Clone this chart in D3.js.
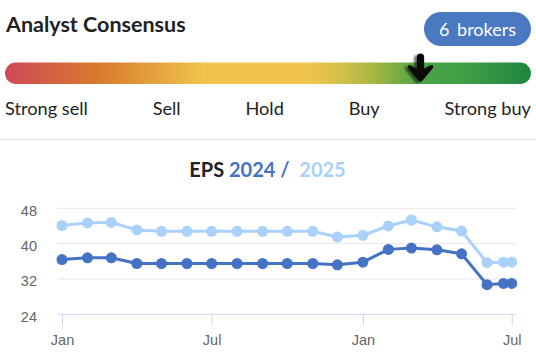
<!DOCTYPE html>
<html>
<head>
<meta charset="utf-8">
<script src="https://cdn.jsdelivr.net/npm/d3@7"></script>
<style>
  html, body { margin: 0; padding: 0; background: #fff; }
  svg { display: block; }
</style>
</head>
<body>
<div id="chart"></div>
<script>
// ---------- data ----------
const consensusLabels = ["Strong sell", "Sell", "Hold", "Buy", "Strong buy"];
const consensusScore = 4.16;          // 1 = Strong sell ... 5 = Strong buy
const brokerCount = 6;

const dates = ["2024-01-01","2024-02-01","2024-03-01","2024-04-01","2024-05-01","2024-06-01",
  "2024-07-01","2024-08-01","2024-09-01","2024-10-01","2024-11-01","2024-12-01",
  "2025-01-01","2025-02-01","2025-03-01","2025-04-01","2025-05-01","2025-06-01",
  "2025-06-21","2025-07-01"];
const eps2024 = [36.4, 36.8, 36.8, 35.5, 35.5, 35.5, 35.5, 35.5, 35.5, 35.5, 35.5, 35.2,
  35.8, 38.7, 39.0, 38.6, 37.7, 30.7, 31.0, 31.0];
const eps2025 = [44.1, 44.7, 44.8, 43.1, 42.8, 42.8, 42.8, 42.8, 42.8, 42.8, 42.8, 41.5,
  41.9, 44.0, 45.35, 43.8, 42.85, 35.7, 35.8, 35.8];
const yTicks = [24, 32, 40, 48];
const xTicks = ["2024-01-01", "2024-07-01", "2025-01-01", "2025-07-01"];

const W = 536, H = 361;
const parse = d3.timeParse("%Y-%m-%d");
const svg = d3.select("#chart").append("svg").attr("width", W).attr("height", H);
const defs = svg.append("defs");

// ---------- header ----------
svg.append("text").attr("x", 6).attr("y", 32)
  .attr("font-family", "Lato").attr("font-weight", 700).attr("font-size", 21.5)
  .attr("fill", "#222").text("Analyst Consensus");

svg.append("rect").attr("x", 424).attr("y", 12).attr("width", 107).attr("height", 34)
  .attr("rx", 17).attr("fill", "#4a78c1");
svg.append("text").attr("x", 477.5).attr("y", 35.5).attr("text-anchor", "middle")
  .attr("font-family", "Lato").attr("font-size", 18).attr("fill", "#fff")
  .attr("word-spacing", 3).text(brokerCount + " brokers");

// gradient bar
const grad = defs.append("linearGradient").attr("id", "cg").attr("x1", 0).attr("x2", 1).attr("y1", 0).attr("y2", 0);
[[0, "#cf4957"], [0.18, "#d97b2d"], [0.38, "#f0c44c"], [0.58, "#f0c44c"], [0.64, "#d3c049"],
 [0.705, "#a2b642"], [0.79, "#4ba445"], [0.86, "#43a047"], [1, "#1f8640"]]
  .forEach(([o, c]) => grad.append("stop").attr("offset", o).attr("stop-color", c));
const barX0 = 5, barX1 = 531;
svg.append("rect").attr("x", barX0).attr("y", 62.5).attr("width", barX1 - barX0).attr("height", 21.5)
  .attr("rx", 10.75).attr("fill", "url(#cg)");

// arrow marker
const sx = d3.scaleLinear().domain([1, 5]).range([barX0, barX1]);
const ax = sx(consensusScore);
const blur = defs.append("filter").attr("id", "blur").attr("x", -0.5).attr("y", -0.5).attr("width", 2).attr("height", 2);
blur.append("feGaussianBlur").attr("stdDeviation", 1.2);
function arrowPath(cx) {
  return `M${cx - 3.6},57 Q${cx - 3.6},53.5 ${cx},53.5 Q${cx + 3.6},53.5 ${cx + 3.6},57 L${cx + 3.6},69 ` +
    `L${cx + 10.5},65 Q${cx + 14},64.5 ${cx + 12},68.5 L${cx + 1.6},81 Q${cx},82.5 ${cx - 1.6},81 ` +
    `L${cx - 12},68.5 Q${cx - 14},64.5 ${cx - 10.5},65 L${cx - 3.6},69 Z`;
}
svg.append("path").attr("d", arrowPath(ax - 3)).attr("transform", "translate(0,1.5)")
  .attr("fill", "#000").attr("opacity", 0.55).attr("filter", "url(#blur)");
svg.append("path").attr("d", arrowPath(ax)).attr("fill", "#0a0a0a");

// labels spaced like flex space-between
const lbl = svg.append("g").selectAll("text").data(consensusLabels).join("text")
  .attr("y", 115).attr("font-family", "Lato").attr("font-size", 18.2).attr("fill", "#222")
  .text(d => d);
const widths = lbl.nodes().map(n => n.getComputedTextLength());
const gap = ((barX1 - barX0) - d3.sum(widths)) / (consensusLabels.length - 1);
let cur = barX0;
lbl.attr("x", (d, i) => { const x = cur; cur += widths[i] + gap; return x; });

// separator
svg.append("line").attr("x1", 0).attr("x2", W).attr("y1", 139.5).attr("y2", 139.5)
  .attr("stroke", "#dedede").attr("stroke-width", 1);

// ---------- EPS chart ----------
const title = svg.append("text").attr("x", 267.5).attr("y", 177).attr("text-anchor", "middle")
  .attr("font-family", "Lato").attr("font-size", 20).attr("xml:space", "preserve");
title.append("tspan").attr("font-weight", 700).attr("fill", "#222").text("EPS ");
title.append("tspan").attr("font-weight", 700).attr("fill", "#4472c4").text("2024 / ");
title.append("tspan").attr("font-weight", 700).attr("fill", "#a9d1fb").text(" 2025");

const plotL = 58, plotR = 516;
const x = d3.scaleTime().domain([parse(dates[0]), parse(dates[dates.length - 1])]).range([62, 511.7]);
const y = d3.scaleLinear().domain([24, 48]).range([314.3, 208.3]);

// grid
svg.append("g").selectAll("line").data(yTicks.filter(t => t !== 24)).join("line")
  .attr("x1", plotL).attr("x2", plotR).attr("y1", d => y(d)).attr("y2", d => y(d))
  .attr("stroke", "#e6e6e6").attr("stroke-width", 1);

// y labels
svg.append("g").selectAll("text").data(yTicks).join("text")
  .attr("x", 37).attr("y", d => y(d) + 7.3).attr("text-anchor", "end")
  .attr("font-family", "Liberation Sans, Arial, sans-serif").attr("font-size", 14.5).attr("fill", "#666")
  .text(d => d);

// x axis
const xAxis = d3.axisBottom(x).tickValues(xTicks.map(parse)).tickFormat(d3.timeFormat("%b"))
  .tickSize(11).tickSizeOuter(0);
const gx = svg.append("g").attr("transform", `translate(0,${y(24)})`).call(xAxis);
gx.select(".domain").attr("d", `M${plotL},0H${plotR}`).attr("stroke", "#ccd6eb");
gx.selectAll(".tick line").attr("stroke", "#ccd6eb");
gx.selectAll(".tick text").attr("y", 20).attr("dy", "0.71em")
  .attr("font-family", "Liberation Sans, Arial, sans-serif").attr("font-size", 14.5).attr("fill", "#666");

// series
const series = [
  { values: eps2025, color: "#a9d1fb" },
  { values: eps2024, color: "#4472c4" }
];
const line = d3.line().x(d => x(d.date)).y(d => y(d.v));
series.forEach(s => {
  const pts = dates.map((d, i) => ({ date: parse(d), v: s.values[i] }));
  svg.append("path").datum(pts).attr("d", line).attr("fill", "none")
    .attr("stroke", s.color).attr("stroke-width", 3).attr("stroke-linejoin", "round");
  svg.append("g").selectAll("circle").data(pts).join("circle")
    .attr("cx", d => x(d.date)).attr("cy", d => y(d.v)).attr("r", 5.5).attr("fill", s.color);
});
</script>
</body>
</html>
